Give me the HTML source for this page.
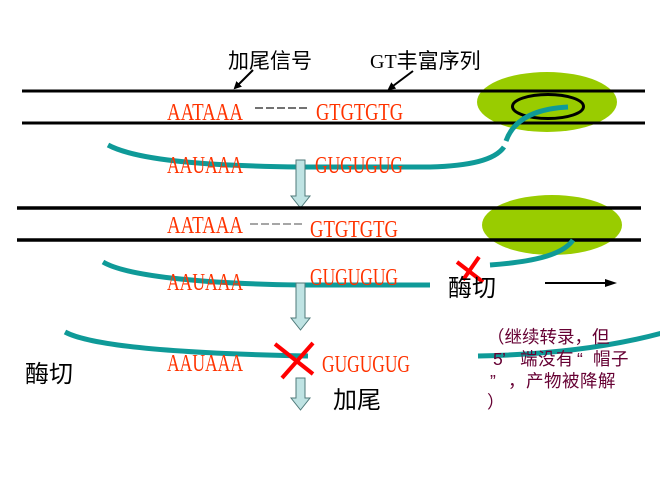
<!DOCTYPE html>
<html><head><meta charset="utf-8"><style>
html,body{margin:0;padding:0;background:#fff;}
svg{display:block;}
.red{font-family:"Liberation Serif",serif;font-size:24px;fill:#ff3300;}
.cn{font-family:"Liberation Sans","Noto Sans CJK SC",sans-serif;fill:#000;}
.pu{font-family:"Liberation Sans","Noto Sans CJK SC",sans-serif;font-size:17.5px;fill:#660033;}
</style></head><body>
<svg width="660" height="480" viewBox="0 0 660 480" xmlns="http://www.w3.org/2000/svg">
<defs>
<marker id="ah" markerWidth="8" markerHeight="8" refX="6" refY="4" orient="auto" markerUnits="userSpaceOnUse">
<path d="M0,0 L8,4 L0,8 Z" fill="#000"/></marker>
</defs>

<!-- Row 1 -->
<ellipse cx="547" cy="102" rx="70" ry="30" fill="#99cc00"/>
<line x1="22" y1="91" x2="645" y2="91" stroke="#000" stroke-width="3"/>
<line x1="22" y1="123" x2="645" y2="123" stroke="#000" stroke-width="3"/>
<ellipse cx="548" cy="106.5" rx="35.5" ry="12" fill="none" stroke="#000" stroke-width="3"/>

<text class="cn" x="228" y="68" font-size="21">加尾信号</text>
<text x="370" y="68" font-size="21"><tspan font-family="Liberation Serif" font-size="20">GT</tspan><tspan class="cn" font-size="21">丰富序列</tspan></text>
<line x1="253" y1="70" x2="235" y2="88" stroke="#000" stroke-width="2" marker-end="url(#ah)"/>
<line x1="413" y1="71" x2="389" y2="89" stroke="#000" stroke-width="2" marker-end="url(#ah)"/>

<text class="red" x="167" y="120" textLength="76" lengthAdjust="spacingAndGlyphs">AATAAA</text>
<line x1="255" y1="108" x2="308" y2="108" stroke="#444" stroke-width="1.5" stroke-dasharray="8,3"/>
<text class="red" x="316" y="120" textLength="87" lengthAdjust="spacingAndGlyphs">GTGTGTG</text>

<path d="M108,145 C140,162 220,166 300,167 L430,167 C470,166 495,160 504,147" fill="none" stroke="#0f9a98" stroke-width="5"/>
<path d="M506,141 C512,124 528,109 568,107" fill="none" stroke="#0f9a98" stroke-width="5"/>
<text class="red" x="167" y="173" textLength="76" lengthAdjust="spacingAndGlyphs">AAUAAA</text>
<text class="red" x="315" y="173" textLength="88" lengthAdjust="spacingAndGlyphs">GUGUGUG</text>

<polygon points="296,160 305,160 305,196 310,196 300.5,208 291,196 296,196" fill="#bfe3e3" stroke="#4f7a7a" stroke-width="1"/>

<!-- Row 2 -->
<ellipse cx="552" cy="225" rx="70" ry="30" fill="#99cc00"/>
<line x1="17" y1="208" x2="641" y2="208" stroke="#000" stroke-width="3.5"/>
<line x1="17" y1="240" x2="641" y2="240" stroke="#000" stroke-width="3.5"/>

<text class="red" x="167" y="233" textLength="76" lengthAdjust="spacingAndGlyphs">AATAAA</text>
<line x1="250" y1="224" x2="303" y2="224" stroke="#888" stroke-width="1.5" stroke-dasharray="8,3"/>
<text class="red" x="310" y="237" textLength="88" lengthAdjust="spacingAndGlyphs">GTGTGTG</text>

<path d="M103,262 C130,278 220,284 300,285 L430,285" fill="none" stroke="#0f9a98" stroke-width="5"/>
<path d="M490,265 C530,262 562,256 573,240" fill="none" stroke="#0f9a98" stroke-width="5"/>
<text class="red" x="167" y="290" textLength="76" lengthAdjust="spacingAndGlyphs">AAUAAA</text>
<text class="red" x="310" y="285" textLength="88" lengthAdjust="spacingAndGlyphs">GUGUGUG</text>

<line x1="457" y1="262" x2="483" y2="282" stroke="#ff0000" stroke-width="4"/>
<line x1="479" y1="257" x2="463" y2="280" stroke="#ff0000" stroke-width="4"/>
<text class="cn" x="448" y="296" font-size="24">酶切</text>

<line x1="545" y1="283" x2="608" y2="283" stroke="#000" stroke-width="2"/>
<polygon points="605,279 617,283 605,287" fill="#000"/>

<polygon points="296,283 305,283 305,318 310,318 300.5,330 291,318 296,318" fill="#bfe3e3" stroke="#4f7a7a" stroke-width="1"/>

<!-- Row 3 -->
<path d="M65,332 C95,348 200,354 308,356" fill="none" stroke="#0f9a98" stroke-width="5"/>
<text class="red" x="167" y="371" textLength="76" lengthAdjust="spacingAndGlyphs">AAUAAA</text>
<text class="red" x="322" y="372" textLength="88" lengthAdjust="spacingAndGlyphs">GUGUGUG</text>
<line x1="275" y1="344" x2="313" y2="374" stroke="#ff0000" stroke-width="4"/>
<line x1="313" y1="343" x2="282" y2="378" stroke="#ff0000" stroke-width="4"/>

<polygon points="296,378 305,378 305,398 310,398 300.5,410 291,398 296,398" fill="#bfe3e3" stroke="#4f7a7a" stroke-width="1"/>

<text class="cn" x="25" y="382" font-size="24">酶切</text>
<text class="cn" x="333" y="408" font-size="24">加尾</text>

<path d="M478,356 Q585,354 662,333" fill="none" stroke="#0f9a98" stroke-width="5"/>

<text class="pu" x="487 504.5 522 539.5 557 574.5 592" y="343">（继续转录，但</text>
<text class="pu" x="493 502 520 538 556 577 593 611" y="365">5’端没有“帽子</text>
<text class="pu" x="490 508 526 544 562 580 598" y="387">”，产物被降解</text>
<text class="pu" x="487" y="408">）</text>
</svg>
</body></html>
